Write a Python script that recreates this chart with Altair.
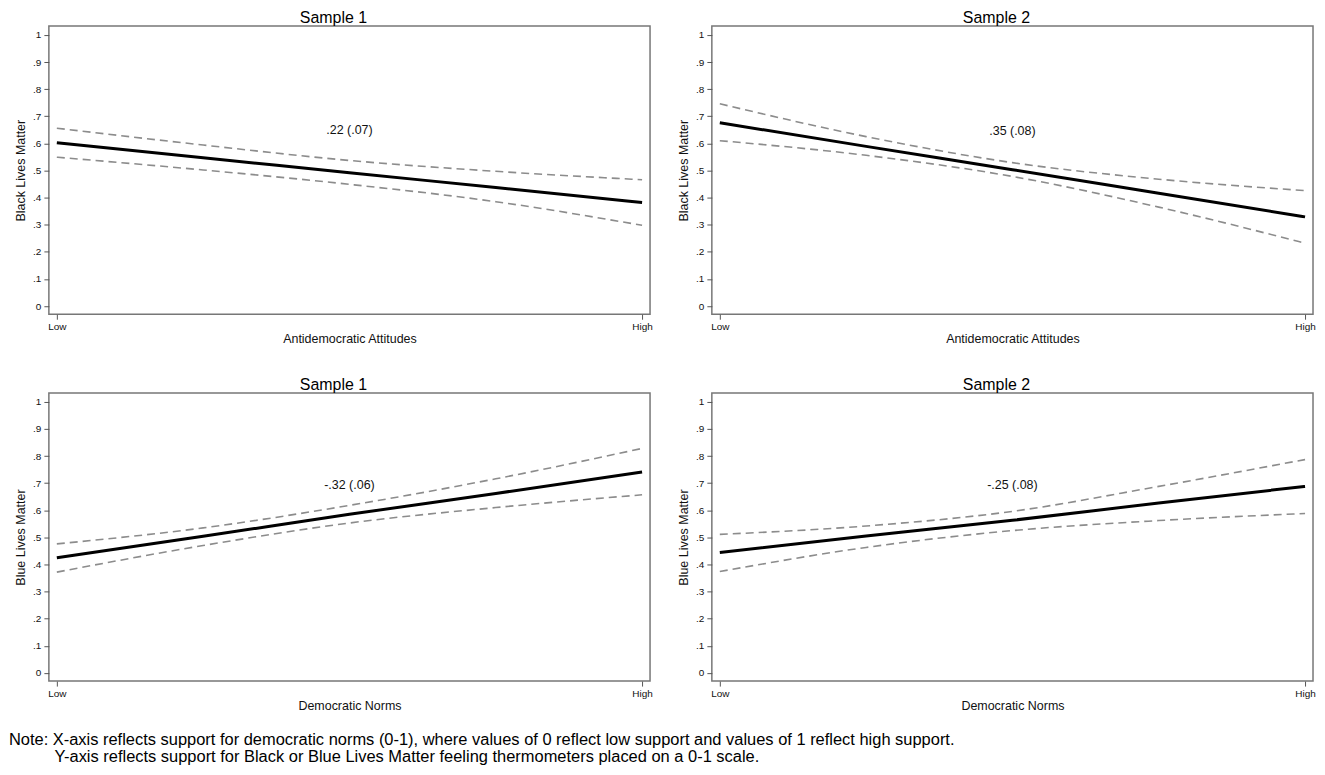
import altair as alt
import pandas as pd

# ---------------- data ----------------
x_vals = [0.0, 0.25, 0.5, 0.75, 1.0]
x_tick_values = [0, 1]
x_tick_labels = ["Low", "High"]
y_tick_values = [0, 0.1, 0.2, 0.3, 0.4, 0.5, 0.6, 0.7, 0.8, 0.9, 1.0]

panel_titles = ["Sample 1", "Sample 2", "Sample 1", "Sample 2"]
y_titles = ["Black Lives Matter", "Black Lives Matter", "Blue Lives Matter", "Blue Lives Matter"]
x_titles = ["Antidemocratic Attitudes", "Antidemocratic Attitudes", "Democratic Norms", "Democratic Norms"]

fit_1 = [0.602, 0.547, 0.492, 0.437, 0.382]
upper_1 = [0.656, 0.594, 0.537, 0.497, 0.466]
lower_1 = [0.549, 0.502, 0.449, 0.385, 0.298]

fit_2 = [0.676, 0.589, 0.503, 0.416, 0.329]
upper_2 = [0.746, 0.625, 0.529, 0.468, 0.426]
lower_2 = [0.610, 0.556, 0.478, 0.365, 0.232]

fit_3 = [0.425, 0.504, 0.585, 0.662, 0.741]
upper_3 = [0.476, 0.535, 0.618, 0.716, 0.828]
lower_3 = [0.372, 0.470, 0.553, 0.610, 0.657]

fit_4 = [0.444, 0.505, 0.563, 0.627, 0.688]
upper_4 = [0.511, 0.542, 0.596, 0.688, 0.787]
lower_4 = [0.374, 0.463, 0.525, 0.562, 0.588]

fits = [fit_1, fit_2, fit_3, fit_4]
uppers = [upper_1, upper_2, upper_3, upper_4]
lowers = [lower_1, lower_2, lower_3, lower_4]

ann_text = [".22 (.07)", ".35 (.08)", "-.32 (.06)", "-.25 (.08)"]
ann_x = [0.5, 0.5, 0.5, 0.5]
ann_y = [0.648, 0.647, 0.694, 0.694]

note_lines = [
    "Note: X-axis reflects support for democratic norms (0-1), where values of 0 reflect low support and values of 1 reflect high support.",
    "\u200b" + "\u00a0" * 10 + "Y-axis reflects support for Black or Blue Lives Matter feeling thermometers placed on a 0-1 scale.",
]

# ---------------- chart ----------------
FONT = "Liberation Sans"
PW, PH = 603, 289

x_scale = alt.Scale(domain=[-0.0136, 1.0136], nice=False, zero=False)
y_scale = alt.Scale(domain=[-0.03, 1.0325], nice=False, zero=False)

x_label_expr = "datum.value == 0 ? '%s' : '%s'" % (x_tick_labels[0], x_tick_labels[1])
y_label_expr = ("datum.value == 0 ? '0' : (datum.value == 1 ? '1' : "
                "replace(format(datum.value, '.1f'), '0.', '.'))")


def panel(i):
    x_axis = alt.Axis(values=x_tick_values, labelExpr=x_label_expr, title=x_titles[i],
                      labelFlush=False, labelPadding=2, titlePadding=1)
    y_axis = alt.Axis(values=y_tick_values, labelExpr=y_label_expr, title=y_titles[i],
                      labelPadding=3, titlePadding=5)
    X = alt.X("x:Q", scale=x_scale, axis=x_axis)
    Y = alt.Y("y:Q", scale=y_scale, axis=y_axis)

    df_fit = pd.DataFrame({"x": x_vals, "y": fits[i]})
    df_ci = pd.DataFrame({
        "x": x_vals + x_vals,
        "y": uppers[i] + lowers[i],
        "band": ["upper"] * len(x_vals) + ["lower"] * len(x_vals),
    })
    df_ann = pd.DataFrame({"x": [ann_x[i]], "y": [ann_y[i]], "t": [ann_text[i]]})

    ci = alt.Chart(df_ci).mark_line(
        color="#8c8c8c", strokeWidth=1.6, strokeDash=[8, 5], interpolate="monotone"
    ).encode(x=X, y=Y, detail="band:N")
    fit = alt.Chart(df_fit).mark_line(
        color="#000000", strokeWidth=3, interpolate="monotone"
    ).encode(x=X, y=Y)
    ann = alt.Chart(df_ann).mark_text(
        font=FONT, fontSize=12.5, color="#111111", align="center", baseline="middle"
    ).encode(x=X, y=Y, text="t:N")

    return alt.layer(ci, fit, ann).properties(
        width=PW, height=PH,
        title=alt.TitleParams(panel_titles[i], font=FONT, fontSize=16, fontWeight="normal",
                              color="#000000", anchor="middle", frame="bounds", offset=0),
    )


top = alt.hconcat(panel(0), panel(1), spacing=22)
bottom = alt.hconcat(panel(2), panel(3), spacing=22)

chart = alt.vconcat(top, bottom, spacing=30).properties(
    title=alt.TitleParams(note_lines, orient="bottom", anchor="start", frame="bounds",
                          font=FONT, fontSize=16.5, fontWeight="normal", color="#000000",
                          lineHeight=16.5, offset=20, dx=-5),
    padding={"left": 0, "top": 0, "right": 0, "bottom": 0},
).configure_view(
    stroke="#777777", strokeWidth=1.5
).configure_axis(
    domain=False, grid=False, tickColor="#555555", tickSize=5, tickWidth=1,
    labelFont=FONT, labelFontSize=10, labelColor="#111111",
    titleFont=FONT, titleFontSize=12.5, titleFontWeight="normal", titleColor="#111111",
)

chart.save("out.html", embed_options={"renderer": "svg", "actions": False})
